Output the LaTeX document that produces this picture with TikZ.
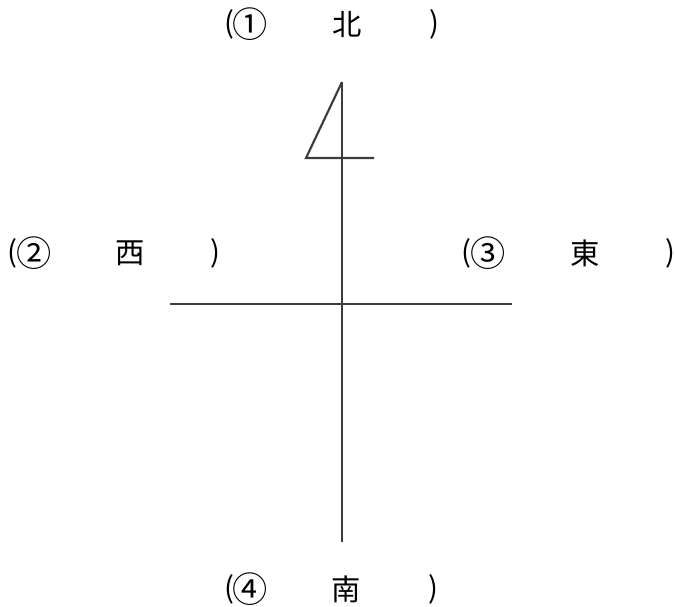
\documentclass[tikz,border=0pt]{standalone}
\usepackage{fontspec}
\newfontfamily\cjk{Noto Sans CJK JP}
\usetikzlibrary{positioning}
\definecolor{lgray}{RGB}{60,60,60}
\tikzset{
  lbl/.style={font=\cjk\fontsize{22}{22}\selectfont,inner sep=0pt,text=black},
  num/.style={lbl,scale=1.2},
  axis/.style={lgray,line width=1.6pt}
}

\begin{document}
\begin{tikzpicture}[x=0.75pt,y=-0.75pt]
        \useasboundingbox (0,0) rectangle (675,607);
        % north
        \node[lbl] (nL) at (229,24) {(};
        \node[num] (nC) at (250,24) {①};
        \node[lbl] (nK) at (347,24) {北};
        \node[lbl] (nR) at (434,24) {)};
        % west
        \node[lbl] (wL) at (12,253) {(};
        \node[num] (wC) at (34,253) {②};
        \node[lbl] (wK) at (130,253) {西};
        \node[lbl] (wR) at (215,253) {)};
        % east
        \node[lbl] (eL) at (466,253) {(};
        \node[num] (eC) at (488,253) {③};
        \node[lbl] (eK) at (585,253) {東};
        \node[lbl] (eR) at (670,253) {)};
        % south
        \node[lbl] (sL) at (229,589) {(};
        \node[num] (sC) at (250,589) {④};
        \node[lbl] (sK) at (346,589) {南};
        \node[lbl] (sR) at (433,589) {)};
        % axes and flag
        \coordinate (top) at (342,82);
        \coordinate (bot) at (342,542);
        \coordinate (wst) at (170,304);
        \coordinate (est) at (512,304);
        \coordinate (flg) at (306,158);
        \coordinate (bar) at (374,158);
        \draw[axis] (top) -- (bot);
        \draw[axis] (wst) -- (est);
        \draw[axis,line join=miter] (top) -- (flg) -- (bar);
      \end{tikzpicture}
\end{document}
